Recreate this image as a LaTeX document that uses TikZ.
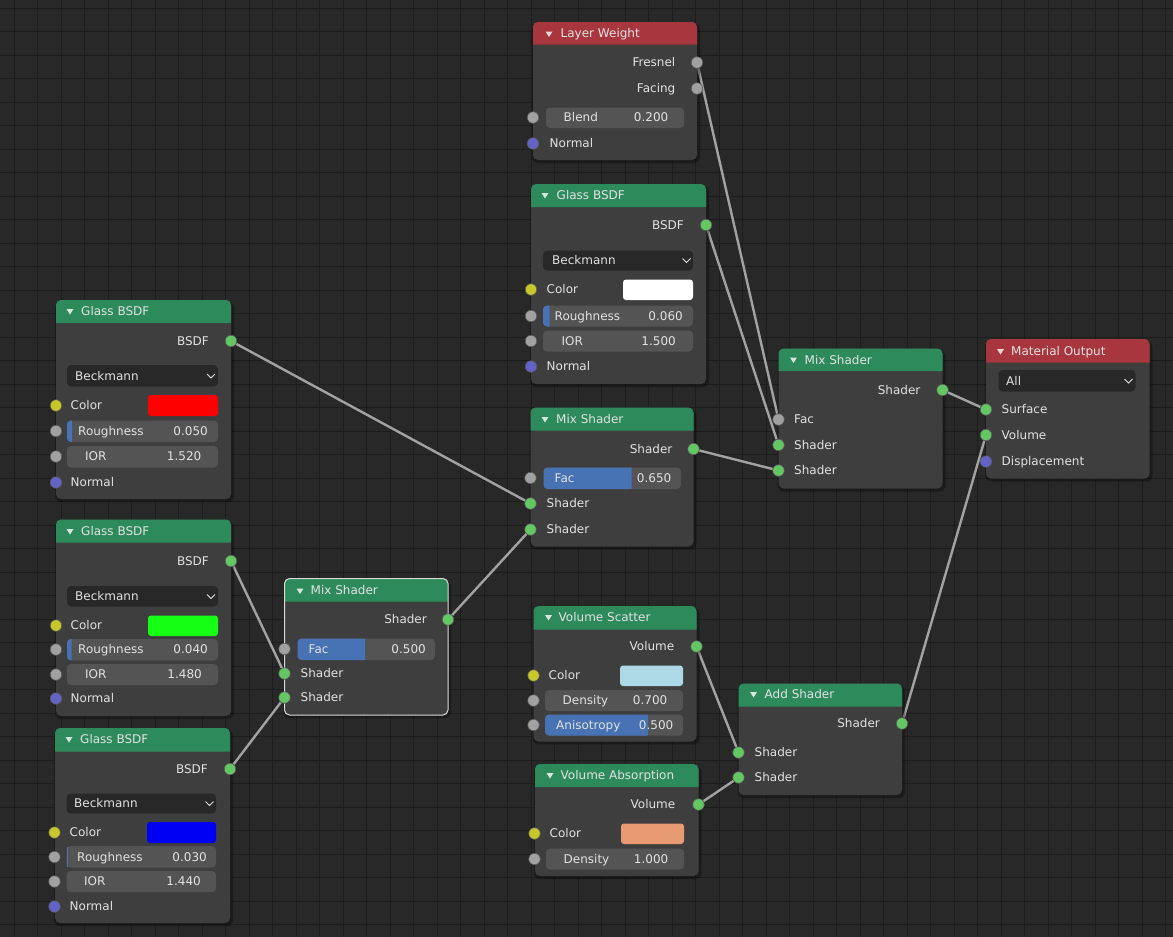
\documentclass[tikz,border=0pt]{standalone}
\usepackage{fontspec}
\setmainfont{DejaVu Sans}

\definecolor{bgc}{HTML}{282828}
\definecolor{gridc}{HTML}{1D1D1D}
\definecolor{nodec}{HTML}{3E3E3E}
\definecolor{hgreen}{HTML}{2D8B5B}
\definecolor{hred}{HTML}{A8363F}
\definecolor{fieldc}{HTML}{545454}
\definecolor{dropc}{HTML}{282828}
\definecolor{facc}{HTML}{4772B3}
\definecolor{txtc}{HTML}{E2E2E2}
\definecolor{wirec}{HTML}{A2A2A2}
\definecolor{sgreen}{HTML}{63C763}
\definecolor{sgray}{HTML}{A1A1A1}
\definecolor{syellow}{HTML}{C7C729}
\definecolor{spurple}{HTML}{6363C7}
\definecolor{cred}{HTML}{FF0000}
\definecolor{cgreen}{HTML}{14FF14}
\definecolor{cblue}{HTML}{0000F5}
\definecolor{clight}{HTML}{ADD8E6}
\definecolor{csalmon}{HTML}{E89A73}

\pgfdeclarelayer{grid}
\pgfdeclarelayer{wires}
\pgfsetlayers{grid,wires,main}

\begin{document}
\begin{tikzpicture}[x=1pt, y=-1pt,
        nbody/.style = {fill=nodec, rounded corners=5pt},
        nshadow/.style = {fill=black, opacity=.3, rounded corners=6pt},
        fld/.style = {fill=fieldc, rounded corners=4pt},
        drp/.style = {fill=dropc, rounded corners=4pt},
        fac/.style = {fill=facc},
        swatch/.style = {rounded corners=3pt},
        tri/.style = {fill=white, opacity=.8},
        chev/.style = {draw=txtc, line width=1pt},
        lab/.style = {text=txtc, inner sep=0pt, text height=8.8pt, text depth=0pt, anchor=west, font=\fontsize{12}{14}\selectfont},
        rlab/.style = {lab, anchor=east},
        sock/.style = {circle, draw=black!65, line width=.6pt, inner sep=0pt, minimum size=11.5pt},
        sg/.style = {sock, fill=sgreen},
        sgy/.style = {sock, fill=sgray},
        sye/.style = {sock, fill=syellow},
        spu/.style = {sock, fill=spurple},
        wire/.style = {draw=wirec, line width=2.4pt},
        selbox/.style = {draw=white!85!black, line width=1pt, rounded corners=5pt}]

    \useasboundingbox (0,0) rectangle (1173,937);
    \begin{pgfonlayer}{grid}
        \fill[bgc] (0,0) rectangle (1173,937);
        \begin{scope}[x=1pt, y=1pt, shift={(14.3,-8.3)}]
            \draw[gridc, line width=1pt] (-20,-940) grid[step=23.5] (1165,15);
        \end{scope}
    \end{pgfonlayer}

    % Layer Weight
    \fill[nshadow] (532,24) rectangle (700,163);
    \fill[nbody] (533,22) rectangle (697,160);
    \fill[hred] (533,44.5) [rounded corners=5pt] -- (533,22) -- (697,22) [sharp corners] -- (697,44.5) -- cycle;
    \fill[tri] (545.5,31.5) -- ++(7,0) -- ++(-3.5,5.5) -- cycle;
    \node[lab] (lwtitle) at (560.5,33.5) {Layer Weight};
    \node[rlab] (lwfl) at (675.5,62.5) {Fresnel};
    \node[sgy] (lwf) at (697,62.5) {};
    \node[rlab] (lwal) at (675.5,88.5) {Facing};
    \node[sgy] (lwa) at (697,88.5) {};
    \fill[fld] (546,107.5) rectangle (684,128);
    \node[lab] (lwbl) at (563.5,117.5) {Blend};
    \node[rlab] (lwbv) at (668.5,117.5) {0.200};
    \node[sgy] (lwb) at (533,117.5) {};
    \node[lab] (lwnl) at (549.5,143.5) {Normal};
    \node[spu] (lwn) at (533,143.5) {};

    % Glass BSDF (top)
    \fill[nshadow] (530,186) rectangle (709,387);
    \fill[nbody] (531,184) rectangle (706,384);
    \fill[hgreen] (531,207) [rounded corners=5pt] -- (531,184) -- (706,184) [sharp corners] -- (706,207) -- cycle;
    \fill[tri] (541.5,193) -- ++(7,0) -- ++(-3.5,5.5) -- cycle;
    \node[lab] (gttitle) at (556.5,195.5) {Glass BSDF};
    \node[rlab] (gtol) at (684,225) {BSDF};
    \node[sg] (gtout) at (706,225) {};
    \fill[drp] (543,250.5) rectangle (693,270.5);
    \node[lab] (gtdist) at (552,260.5) {Beckmann};
    \draw[chev] (682.5,258.5) -- ++(4,4) -- ++(4,-4);
    \node[lab] (gtcl) at (546.5,289.5) {Color};
    \fill[swatch, white] (623,279.5) rectangle (693,300);
    \node[sye] (gtcol) at (531,289.5) {};
    \fill[fld] (543,305.5) rectangle (693,326.5);
    \fill[fac] (549.5,305.5) [rounded corners=4pt] -- (543,305.5) -- (543,326.5) [sharp corners] -- (549.5,326.5) -- cycle;
    \node[lab] (gtrl) at (554.5,316) {Roughness};
    \node[rlab] (gtrv) at (683,316) {0.060};
    \node[sgy] (gtrgh) at (531,316) {};
    \fill[fld] (543,330.5) rectangle (693,351.5);
    \node[lab] (gtil) at (561.5,341) {IOR};
    \node[rlab] (gtiv) at (676,341) {1.500};
    \node[sgy] (gtior) at (531,341) {};
    \node[lab] (gtnl) at (546.5,366.5) {Normal};
    \node[spu] (gtnrm) at (531,366.5) {};

    % Glass BSDF (red)
    \fill[nshadow] (55,302) rectangle (234,502);
    \fill[nbody] (56,300) rectangle (231,499);
    \fill[hgreen] (56,323) [rounded corners=5pt] -- (56,300) -- (231,300) [sharp corners] -- (231,323) -- cycle;
    \fill[tri] (66.5,309) -- ++(7,0) -- ++(-3.5,5.5) -- cycle;
    \node[lab] (g1title) at (81,311.5) {Glass BSDF};
    \node[rlab] (g1ol) at (209,341) {BSDF};
    \node[sg] (g1out) at (231,341) {};
    \fill[drp] (67,365) rectangle (218,386.5);
    \node[lab] (g1dist) at (75,376) {Beckmann};
    \draw[chev] (207,374) -- ++(4,4) -- ++(4,-4);
    \node[lab] (g1cl) at (70.5,405.5) {Color};
    \fill[swatch, cred] (148,395) rectangle (218,416);
    \node[sye] (g1col) at (56,405.5) {};
    \fill[fld] (67,420.5) rectangle (218,442);
    \fill[fac] (72,420.5) [rounded corners=4pt] -- (67,420.5) -- (67,442) [sharp corners] -- (72,442) -- cycle;
    \node[lab] (g1rl) at (78,431) {Roughness};
    \node[rlab] (g1rv) at (208,431) {0.050};
    \node[sgy] (g1rgh) at (56,431) {};
    \fill[fld] (67,446) rectangle (218,467.5);
    \node[lab] (g1il) at (85,456.5) {IOR};
    \node[rlab] (g1iv) at (201.5,456.5) {1.520};
    \node[sgy] (g1ior) at (56,456.5) {};
    \node[lab] (g1nl) at (70.5,482.5) {Normal};
    \node[spu] (g1nrm) at (56,482.5) {};

    % Glass BSDF (green)
    \fill[nshadow] (55,521.5) rectangle (234,719);
    \fill[nbody] (56,519.5) rectangle (231,716);
    \fill[hgreen] (56,542.5) [rounded corners=5pt] -- (56,519.5) -- (231,519.5) [sharp corners] -- (231,542.5) -- cycle;
    \fill[tri] (66.5,529) -- ++(7,0) -- ++(-3.5,5.5) -- cycle;
    \node[lab] (g2title) at (81,531.5) {Glass BSDF};
    \node[rlab] (g2ol) at (209,561) {BSDF};
    \node[sg] (g2out) at (231,561) {};
    \fill[drp] (67,586) rectangle (218,606.5);
    \node[lab] (g2dist) at (75,596.5) {Beckmann};
    \draw[chev] (207,594.5) -- ++(4,4) -- ++(4,-4);
    \node[lab] (g2cl) at (70.5,625.5) {Color};
    \fill[swatch, cgreen] (148,615.5) rectangle (218,636);
    \node[sye] (g2col) at (56,625.5) {};
    \fill[fld] (67,639) rectangle (218,660.5);
    \fill[fac] (71.5,639) [rounded corners=4pt] -- (67,639) -- (67,660.5) [sharp corners] -- (71.5,660.5) -- cycle;
    \node[lab] (g2rl) at (78,649.5) {Roughness};
    \node[rlab] (g2rv) at (208,649.5) {0.040};
    \node[sgy] (g2rgh) at (56,649.5) {};
    \fill[fld] (67,664) rectangle (218,685);
    \node[lab] (g2il) at (85,674.5) {IOR};
    \node[rlab] (g2iv) at (202,674.5) {1.480};
    \node[sgy] (g2ior) at (56,674.5) {};
    \node[lab] (g2nl) at (70.5,698.5) {Normal};
    \node[spu] (g2nrm) at (56,698.5) {};

    % Glass BSDF (blue)
    \fill[nshadow] (54,730) rectangle (233,926);
    \fill[nbody] (55,728) rectangle (230,923);
    \fill[hgreen] (55,751.5) [rounded corners=5pt] -- (55,728) -- (230,728) [sharp corners] -- (230,751.5) -- cycle;
    \fill[tri] (65.5,737) -- ++(7,0) -- ++(-3.5,5.5) -- cycle;
    \node[lab] (g3title) at (80,739.5) {Glass BSDF};
    \node[rlab] (g3ol) at (208,769) {BSDF};
    \node[sg] (g3out) at (230,769) {};
    \fill[drp] (66.5,793.5) rectangle (216,813.5);
    \node[lab] (g3dist) at (74,803.5) {Beckmann};
    \draw[chev] (205.5,801.5) -- ++(4,4) -- ++(4,-4);
    \node[lab] (g3cl) at (69.5,832.5) {Color};
    \fill[swatch, cblue] (147,822) rectangle (216,843);
    \node[sye] (g3col) at (54.5,832.5) {};
    \fill[fld] (66.5,846) rectangle (216,867.5);
    \fill[fac] (66.5,846.5) rectangle (68,867);
    \node[lab] (g3rl) at (77,857) {Roughness};
    \node[rlab] (g3rv) at (207,857) {0.030};
    \node[sgy] (g3rgh) at (54.5,857) {};
    \fill[fld] (66.5,871) rectangle (216,892);
    \node[lab] (g3il) at (84,881.5) {IOR};
    \node[rlab] (g3iv) at (201,881.5) {1.440};
    \node[sgy] (g3ior) at (54.5,881.5) {};
    \node[lab] (g3nl) at (69.5,906.5) {Normal};
    \node[spu] (g3nrm) at (54.5,906.5) {};

    % Mix Shader (selected)
    \fill[nshadow] (283.5,580.5) rectangle (451,718);
    \fill[nbody] (284.5,578.5) rectangle (448,715);
    \fill[hgreen] (284.5,601.5) [rounded corners=5pt] -- (284.5,578.5) -- (448,578.5) [sharp corners] -- (448,601.5) -- cycle;
    \draw[selbox] (284.5,578.5) rectangle (448,715);
    \fill[tri] (296.5,588.5) -- ++(7,0) -- ++(-3.5,5.5) -- cycle;
    \node[lab] (mstitle) at (310.5,590.5) {Mix Shader};
    \node[rlab] (msol) at (427,619.5) {Shader};
    \node[sg] (msout) at (448,619.5) {};
    \fill[fld] (297.5,638.5) rectangle (435,660);
    \fill[fac] (365,638.5) [rounded corners=4pt] -- (297.5,638.5) -- (297.5,660) [sharp corners] -- (365,660) -- cycle;
    \node[lab] (msfl) at (308.5,649) {Fac};
    \node[rlab] (msfv) at (426,649) {0.500};
    \node[sgy] (msfac) at (284.5,649) {};
    \node[lab] (ms1l) at (300.5,673.5) {Shader};
    \node[sg] (mss1) at (284.5,673.5) {};
    \node[lab] (ms2l) at (300.5,697.5) {Shader};
    \node[sg] (mss2) at (284.5,697.5) {};

    % Mix Shader (center)
    \fill[nshadow] (529.5,409.5) rectangle (696.5,549.5);
    \fill[nbody] (530.5,407.5) rectangle (693.5,546.5);
    \fill[hgreen] (530.5,430.5) [rounded corners=5pt] -- (530.5,407.5) -- (693.5,407.5) [sharp corners] -- (693.5,430.5) -- cycle;
    \fill[tri] (541.5,417) -- ++(7,0) -- ++(-3.5,5.5) -- cycle;
    \node[lab] (mctitle) at (556,419.5) {Mix Shader};
    \node[rlab] (mcol) at (672.5,449) {Shader};
    \node[sg] (mcout) at (693.5,449) {};
    \fill[fld] (543.5,467.5) rectangle (681,489);
    \fill[fac] (631.5,467.5) [rounded corners=4pt] -- (543.5,467.5) -- (543.5,489) [sharp corners] -- (631.5,489) -- cycle;
    \node[lab] (mcfl) at (554.5,478) {Fac};
    \node[rlab] (mcfv) at (671.5,478) {0.650};
    \node[sgy] (mcfac) at (530.5,478) {};
    \node[lab] (mc1l) at (546.5,503.5) {Shader};
    \node[sg] (mcs1) at (530.5,503.5) {};
    \node[lab] (mc2l) at (546.5,529.5) {Shader};
    \node[sg] (mcs2) at (530.5,529.5) {};

    % Mix Shader (right)
    \fill[nshadow] (777.5,350.5) rectangle (945.5,491.5);
    \fill[nbody] (778.5,348.5) rectangle (942.5,488.5);
    \fill[hgreen] (778.5,371) [rounded corners=5pt] -- (778.5,348.5) -- (942.5,348.5) [sharp corners] -- (942.5,371) -- cycle;
    \fill[tri] (790,357.5) -- ++(7,0) -- ++(-3.5,5.5) -- cycle;
    \node[lab] (mrtitle) at (804.5,360) {Mix Shader};
    \node[rlab] (mrol) at (920.5,390) {Shader};
    \node[sg] (mrout) at (942.5,390) {};
    \node[lab] (mrfl) at (794,419.5) {Fac};
    \node[sgy] (mrfac) at (778.5,419.5) {};
    \node[lab] (mr1l) at (794,445) {Shader};
    \node[sg] (mrs1) at (778.5,445) {};
    \node[lab] (mr2l) at (794,470.5) {Shader};
    \node[sg] (mrs2) at (778.5,470.5) {};

    % Material Output
    \fill[nshadow] (985,341) rectangle (1152.5,481.5);
    \fill[nbody] (986,339) rectangle (1149.5,478.5);
    \fill[hred] (986,362.5) [rounded corners=5pt] -- (986,339) -- (1149.5,339) [sharp corners] -- (1149.5,362.5) -- cycle;
    \fill[tri] (997,349) -- ++(7,0) -- ++(-3.5,5.5) -- cycle;
    \node[lab] (motitle) at (1011,351.5) {Material Output};
    \fill[drp] (998.5,370) rectangle (1135.5,391.5);
    \node[lab] (motarget) at (1006,381) {All};
    \draw[chev] (1124.5,379) -- ++(4,4) -- ++(4,-4);
    \node[lab] (mosl) at (1001.5,409.5) {Surface};
    \node[sg] (mosurf) at (986,409.5) {};
    \node[lab] (movl) at (1001.5,435) {Volume};
    \node[sg] (movol) at (986,435) {};
    \node[lab] (modl) at (1001.5,461.5) {Displacement};
    \node[spu] (modisp) at (986,461.5) {};

    % Volume Scatter
    \fill[nshadow] (532.5,608) rectangle (699.5,744.5);
    \fill[nbody] (533.5,606) rectangle (696.5,741.5);
    \fill[hgreen] (533.5,629.5) [rounded corners=5pt] -- (533.5,606) -- (696.5,606) [sharp corners] -- (696.5,629.5) -- cycle;
    \fill[tri] (545,615) -- ++(7,0) -- ++(-3.5,5.5) -- cycle;
    \node[lab] (vstitle) at (558.5,617.5) {Volume Scatter};
    \node[rlab] (vsol) at (674.5,646.5) {Volume};
    \node[sg] (vsout) at (696.5,646.5) {};
    \node[lab] (vscl) at (548.5,675.5) {Color};
    \fill[swatch, clight] (620,665.5) rectangle (683,686);
    \node[sye] (vscol) at (533.5,675.5) {};
    \fill[fld] (545,690) rectangle (683,711);
    \node[lab] (vsdl) at (562.5,700.5) {Density};
    \node[rlab] (vsdv) at (667.5,700.5) {0.700};
    \node[sgy] (vsden) at (533.5,700.5) {};
    \fill[fld] (545,714.5) rectangle (683,735.5);
    \fill[fac] (648,714.5) [rounded corners=4pt] -- (545,714.5) -- (545,735.5) [sharp corners] -- (648,735.5) -- cycle;
    \node[lab] (vsal) at (556,725) {Anisotropy};
    \node[rlab] (vsav) at (673.5,725) {0.500};
    \node[sgy] (vsani) at (533.5,725) {};

    % Volume Absorption
    \fill[nshadow] (534,766) rectangle (701.5,879);
    \fill[nbody] (535,764) rectangle (698.5,876);
    \fill[hgreen] (535,787) [rounded corners=5pt] -- (535,764) -- (698.5,764) [sharp corners] -- (698.5,787) -- cycle;
    \fill[tri] (546.5,773) -- ++(7,0) -- ++(-3.5,5.5) -- cycle;
    \node[lab] (vatitle) at (560.5,775.5) {Volume Absorption};
    \node[rlab] (vaol) at (675.5,804.5) {Volume};
    \node[sg] (vaout) at (698.5,804.5) {};
    \node[lab] (vacl) at (549.5,833.5) {Color};
    \fill[swatch, csalmon] (621,823.5) rectangle (684,844);
    \node[sye] (vacol) at (534.5,833.5) {};
    \fill[fld] (546,848.5) rectangle (684,869.5);
    \node[lab] (vadl) at (563.5,859) {Density};
    \node[rlab] (vadv) at (668.5,859) {1.000};
    \node[sgy] (vaden) at (534.5,859) {};

    % Add Shader
    \fill[nshadow] (737.5,685.5) rectangle (905,798);
    \fill[nbody] (738.5,683.5) rectangle (902,795);
    \fill[hgreen] (738.5,706.5) [rounded corners=5pt] -- (738.5,683.5) -- (902,683.5) [sharp corners] -- (902,706.5) -- cycle;
    \fill[tri] (750,692) -- ++(7,0) -- ++(-3.5,5.5) -- cycle;
    \node[lab] (astitle) at (764.5,694.5) {Add Shader};
    \node[rlab] (asol) at (880,723.5) {Shader};
    \node[sg] (asout) at (902,723.5) {};
    \node[lab] (as1l) at (754.5,752.5) {Shader};
    \node[sg] (ass1) at (738.5,752.5) {};
    \node[lab] (as2l) at (754.5,777.5) {Shader};
    \node[sg] (ass2) at (738.5,777.5) {};

    \begin{pgfonlayer}{wires}
        \draw[wire] (g1out) -- (mcs1);\draw[wire] (g2out) -- (mss1);\draw[wire] (g3out) -- (mss2);
        \draw[wire] (msout) -- (mcs2);\draw[wire] (lwf) -- (mrfac);\draw[wire] (gtout) -- (mrs1);
        \draw[wire] (mcout) -- (mrs2);\draw[wire] (mrout) -- (mosurf);
        \draw[wire] (vsout) -- (ass1);\draw[wire] (vaout) -- (ass2);\draw[wire] (asout) -- (movol);
    \end{pgfonlayer}
\end{tikzpicture}
\end{document}
